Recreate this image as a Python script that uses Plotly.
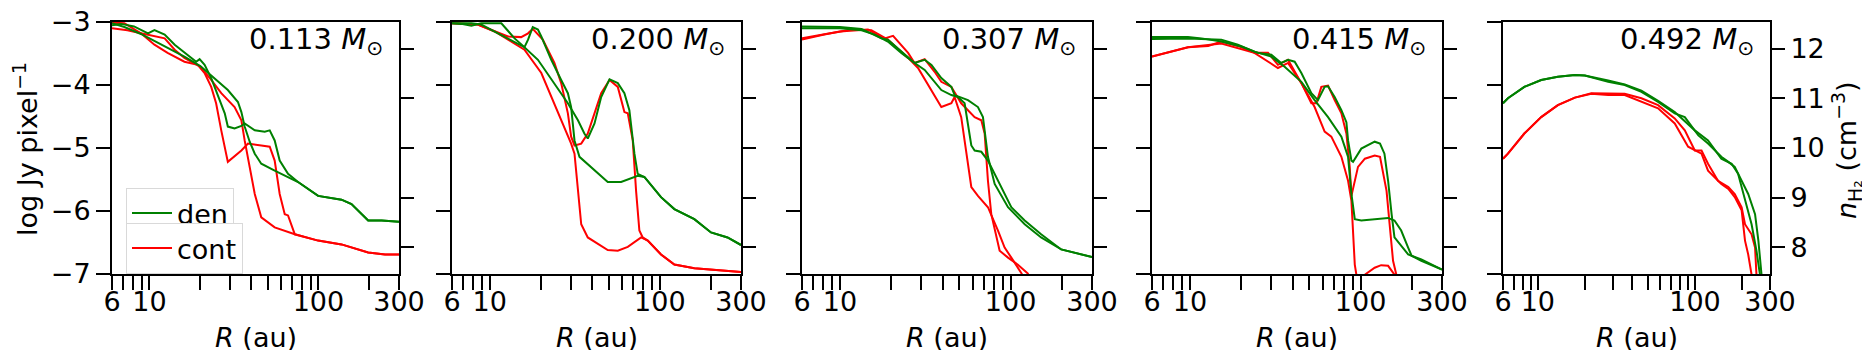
import plotly.graph_objects as go

# 每个面板的质量标签
masses = ['0.113', '0.200', '0.307', '0.415', '0.492']

# ---- 0.113 Msun ----
p1_den_a_R = [6, 7.1, 8.9, 10, 12.3, 16.1, 20, 24.3, 29.1, 33.4, 35, 36.6, 39.2, 42, 45.9, 55.1, 66.1, 75.8, 99.6, 137, 157, 197, 237, 300]
p1_den_a = [-3.02, -3.08, -3.19, -3.26, -3.38, -3.55, -3.70, -3.89, -4.08, -4.27, -4.43, -4.66, -4.90, -5.09, -5.25, -5.36, -5.46, -5.54, -5.76, -5.82, -5.89, -6.15, -6.15, -6.17]
p1_den_b_R = [6, 6.8, 8.1, 9.8, 10.7, 12.3, 14.1, 16.9, 18.9, 19.8, 21.2, 23.2, 25.4, 27.9, 29.1, 31.9, 35, 36.6, 42, 48.1, 51.5, 55.1, 59.0, 63.2, 66.1, 75.8, 99.6, 137, 157, 197, 237, 300]
p1_den_b = [-3.05, -3.03, -3.07, -3.18, -3.13, -3.20, -3.36, -3.52, -3.63, -3.59, -3.68, -3.89, -4.16, -4.45, -4.66, -4.69, -4.65, -4.61, -4.72, -4.74, -4.72, -4.88, -5.20, -5.33, -5.41, -5.54, -5.76, -5.82, -5.89, -6.15, -6.15, -6.17]
p1_cont_a_R = [6, 7.4, 8.9, 10.7, 12.3, 14.1, 16.1, 18.5, 20, 23.2, 26.6, 31.9, 35, 36.6, 39.2, 42, 45.9, 55.1, 72.5, 99.6, 137, 197, 248, 300]
p1_cont_a = [-3.10, -3.13, -3.18, -3.22, -3.26, -3.44, -3.57, -3.66, -3.71, -3.92, -4.13, -4.35, -4.56, -4.88, -5.30, -5.73, -6.10, -6.26, -6.37, -6.47, -6.53, -6.66, -6.69, -6.69]
p1_cont_b_R = [6, 7.1, 8.9, 10.7, 12.8, 16.1, 19.3, 21.2, 23.2, 24.8, 26.6, 29.1, 35, 38.3, 45.9, 51.5, 55.1, 59.0, 63.2, 66.1, 72.5, 99.6, 137, 197, 248, 300]
p1_cont_b = [-3.01, -3.02, -3.18, -3.36, -3.49, -3.63, -3.68, -3.81, -4.03, -4.29, -4.72, -5.22, -5.04, -4.93, -4.96, -4.98, -5.20, -5.73, -6.05, -6.07, -6.37, -6.47, -6.53, -6.66, -6.69, -6.69]

# ---- 0.200 Msun ----
p2_den_a_R = [6, 6.8, 7.8, 8.9, 11.7, 14.0, 16.0, 16.8, 17.9, 19.2, 20.1, 23.0, 26.3, 28.8, 30.1, 31.5, 33.7, 39.4, 45.2, 49.4, 59.2, 74.1, 81.1, 101.6, 121.7, 159.5, 199.8, 250, 300]
p2_den_a = [-3.02, -3.03, -3.06, -3.02, -3.02, -3.26, -3.40, -3.28, -3.08, -3.12, -3.23, -3.60, -3.92, -4.13, -4.35, -4.88, -5.14, -5.30, -5.44, -5.54, -5.54, -5.44, -5.46, -5.78, -5.97, -6.13, -6.34, -6.42, -6.54]
p2_den_b_R = [6, 7.8, 8.9, 10.7, 12.8, 16.0, 19.2, 24.0, 28.8, 33.0, 36.0, 37.7, 41.3, 45.2, 50.6, 56.6, 61.9, 66.2, 70.9, 74.1, 81.1, 101.6, 121.7, 159.5, 199.8, 250, 300]
p2_den_b = [-3.02, -3.02, -3.04, -3.15, -3.26, -3.40, -3.60, -3.97, -4.29, -4.56, -4.77, -4.85, -4.61, -4.19, -3.91, -3.97, -4.13, -4.40, -5.09, -5.41, -5.46, -5.78, -5.97, -6.13, -6.34, -6.42, -6.54]
p2_cont_a_R = [6, 8.5, 10.7, 16.0, 20.1, 24.0, 27.5, 30.1, 31.5, 33.0, 34.5, 37.7, 49.4, 56.6, 64.8, 77.6, 84.9, 101.6, 121.7, 159.5, 199.8, 300]
p2_cont_a = [-3.02, -3.04, -3.15, -3.44, -3.81, -4.29, -4.66, -4.93, -5.09, -5.73, -6.21, -6.42, -6.62, -6.63, -6.57, -6.42, -6.47, -6.69, -6.85, -6.91, -6.93, -6.97]
p2_cont_b_R = [6, 8.5, 12.8, 15.3, 16.8, 17.9, 20.5, 24.0, 26.3, 28.8, 30.1, 31.5, 34.5, 37.7, 45.2, 50.6, 56.6, 61.9, 64.8, 69.3, 72.5, 75.8, 79.3, 84.9, 101.6, 121.7, 159.5, 199.8, 300]
p2_cont_b = [-3.02, -3.04, -3.23, -3.24, -3.18, -3.11, -3.28, -3.65, -3.97, -4.45, -4.82, -4.96, -4.93, -4.77, -4.13, -3.92, -4.03, -4.43, -4.45, -4.88, -5.68, -6.31, -6.42, -6.47, -6.69, -6.85, -6.91, -6.93, -6.97]

# ---- 0.307 Msun ----
p3_den_a_R = [6, 10, 13.4, 17.5, 19.1, 22.9, 27.4, 31.4, 39.3, 45.0, 49.2, 53.8, 58.9, 61.6, 67.4, 73.7, 80.7, 92.3, 101, 121, 151, 198, 237, 300]
p3_den_a = [-3.07, -3.08, -3.11, -3.26, -3.28, -3.47, -3.65, -3.76, -4.08, -4.16, -4.19, -4.29, -4.96, -5.04, -5.06, -5.20, -5.41, -5.73, -5.94, -6.15, -6.37, -6.61, -6.66, -6.73]
p3_den_b_R = [6, 10, 13.4, 16.0, 19.1, 22.9, 27.4, 31.4, 34.4, 39.3, 45.0, 47.0, 56.3, 64.4, 68.9, 73.7, 80.7, 96.6, 121, 151, 198, 237, 300]
p3_den_b = [-3.10, -3.10, -3.13, -3.20, -3.31, -3.49, -3.65, -3.60, -3.68, -3.89, -4.03, -4.16, -4.24, -4.35, -4.51, -5.14, -5.57, -5.94, -6.21, -6.42, -6.61, -6.66, -6.73]
p3_cont_a_R = [6, 8.1, 11.7, 15.3, 19.1, 25.1, 28.7, 34.4, 39.3, 45.0, 47.0, 51.4, 55.0, 58.9, 64.4, 73.7, 84.4, 92.3, 101, 116, 121]
p3_cont_a = [-3.28, -3.20, -3.12, -3.13, -3.28, -3.57, -3.73, -4.08, -4.35, -4.29, -4.19, -4.51, -5.04, -5.62, -5.76, -5.94, -6.31, -6.58, -6.74, -6.99, -7.11]
p3_cont_b_R = [6, 10, 14.6, 18.3, 20.5, 25.1, 27.4, 31.4, 35.9, 39.3, 45.0, 51.4, 61.6, 67.4, 70.5, 73.7, 77.1, 86.3, 96.6, 110, 126, 132]
p3_cont_b = [-3.26, -3.15, -3.12, -3.26, -3.22, -3.49, -3.65, -3.59, -3.79, -3.95, -4.03, -4.29, -4.51, -4.56, -4.77, -5.52, -6.05, -6.63, -6.74, -6.85, -6.99, -7.09]

# ---- 0.415 Msun ----
p4_den_a_R = [6, 9.75, 11.7, 15.3, 20.0, 25.0, 30.0, 34.3, 37.6, 41.1, 45.0, 51.5, 56.3, 61.6, 64.5, 70.5, 77.2, 82.6, 84.5, 88.4, 90.4, 101, 121, 130, 138, 145, 152, 158, 190, 227, 300]
p4_den_a = [-3.24, -3.24, -3.26, -3.31, -3.39, -3.49, -3.52, -3.65, -3.60, -3.63, -3.81, -4.13, -4.24, -4.03, -4.02, -4.19, -4.40, -4.59, -4.88, -5.20, -5.22, -5.01, -4.90, -4.93, -5.09, -5.52, -6.05, -6.42, -6.69, -6.77, -6.93]
p4_den_b_R = [6, 9.75, 15.3, 19.1, 23.9, 30.0, 35.9, 45.0, 53.8, 64.5, 77.2, 84.5, 88.4, 92.5, 101, 145, 158, 173, 190, 199, 227, 300]
p4_den_b = [-3.27, -3.26, -3.28, -3.36, -3.47, -3.55, -3.71, -3.95, -4.24, -4.51, -4.82, -5.14, -5.73, -6.13, -6.15, -6.11, -6.15, -6.31, -6.58, -6.71, -6.79, -6.93]
p4_cont_a_R = [6, 9.75, 12.8, 15.3, 19.1, 23.9, 28.7, 32.8, 37.6, 45.0, 51.5, 55.1, 58.9, 64.5, 70.5, 77.2, 82.6, 86.4, 88.4, 92.5, 96.6, 106, 121, 130, 135, 142, 148, 155, 162]
p4_cont_a = [-3.55, -3.40, -3.38, -3.31, -3.38, -3.49, -3.49, -3.68, -3.60, -3.97, -4.29, -4.29, -4.03, -4.01, -4.24, -4.45, -4.77, -5.30, -5.76, -5.52, -5.30, -5.17, -5.12, -5.14, -5.36, -5.68, -6.21, -6.79, -7.01]
p4_cont_b_R = [6, 9.75, 15.3, 23.9, 32.8, 37.6, 45.0, 53.8, 61.6, 67.4, 77.2, 84.5, 88.4, 92.5, 94.5, 100, 106, 121, 132, 145, 158]
p4_cont_b = [-3.55, -3.40, -3.34, -3.49, -3.73, -3.65, -3.97, -4.35, -4.74, -4.82, -5.14, -5.52, -5.84, -6.85, -7.01, -7.10, -7.01, -6.90, -6.86, -6.87, -7.01]

# ---- 0.492 Msun ----
p5_den_a_R = [6, 6.45, 8.2, 10.5, 13.4, 17.2, 19.9, 23.0, 28.0, 35.7, 45.6, 58.2, 74.3, 86.1, 105, 121, 147, 163, 179, 198, 218, 241, 253, 265]
p5_den_a = [-4.29, -4.21, -4.03, -3.92, -3.87, -3.84, -3.85, -3.89, -3.95, -4.00, -4.11, -4.27, -4.45, -4.51, -4.80, -4.93, -5.14, -5.22, -5.30, -5.52, -5.73, -6.05, -6.47, -7.01]
p5_den_b_R = [6, 6.45, 8.2, 10.5, 13.4, 17.2, 19.9, 23.0, 28.0, 35.7, 45.6, 58.2, 74.3, 99.7, 121, 147, 171, 188, 208, 229, 246, 259]
p5_den_b = [-4.29, -4.21, -4.03, -3.92, -3.87, -3.84, -3.85, -3.88, -3.93, -3.99, -4.09, -4.25, -4.43, -4.72, -4.88, -5.17, -5.25, -5.41, -5.84, -6.21, -6.63, -7.01]
p5_cont_a_R = [6, 6.45, 8.2, 10.5, 13.4, 17.2, 21.9, 28.0, 35.7, 45.6, 58.2, 74.3, 90.4, 110, 121, 147, 163, 179, 198, 208, 218, 229]
p5_cont_a = [-5.17, -5.09, -4.77, -4.51, -4.32, -4.20, -4.14, -4.16, -4.16, -4.27, -4.37, -4.61, -4.98, -5.09, -5.36, -5.57, -5.65, -5.78, -5.99, -6.47, -6.69, -7.01]
p5_cont_b_R = [6, 6.45, 8.2, 10.5, 13.4, 17.2, 21.9, 28.0, 35.7, 45.6, 58.2, 74.3, 86.1, 99.7, 110, 121, 140, 163, 179, 198, 208, 229, 241, 246]
p5_cont_b = [-5.17, -5.09, -4.77, -4.51, -4.32, -4.20, -4.13, -4.13, -4.14, -4.21, -4.32, -4.53, -4.72, -5.04, -5.04, -5.25, -5.52, -5.62, -5.73, -5.94, -6.21, -6.37, -6.58, -7.01]

# 坐标轴刻度
r_major = [6, 10, 100, 300]
r_major_labels = ['6', '10', '100', '300']
r_minor = [7, 8, 9, 20, 30, 40, 50, 60, 70, 80, 90, 200]
flux_ticks = [-7, -6, -5, -4, -3]
flux_labels = ['−7', '−6', '−5', '−4', '−3']
nh2_ticks = [8, 9, 10, 11, 12]

panels = [
    (p1_den_a_R, p1_den_a, p1_den_b_R, p1_den_b, p1_cont_a_R, p1_cont_a, p1_cont_b_R, p1_cont_b),
    (p2_den_a_R, p2_den_a, p2_den_b_R, p2_den_b, p2_cont_a_R, p2_cont_a, p2_cont_b_R, p2_cont_b),
    (p3_den_a_R, p3_den_a, p3_den_b_R, p3_den_b, p3_cont_a_R, p3_cont_a, p3_cont_b_R, p3_cont_b),
    (p4_den_a_R, p4_den_a, p4_den_b_R, p4_den_b, p4_cont_a_R, p4_cont_a, p4_cont_b_R, p4_cont_b),
    (p5_den_a_R, p5_den_a, p5_den_b_R, p5_den_b, p5_cont_a_R, p5_cont_a, p5_cont_b_R, p5_cont_b),
]

W, H = 1870, 350
px_left = [104, 444, 794, 1144, 1495]
px_right = [391, 733, 1084, 1434, 1762]
y_dom = [1 - 266 / H, 1 - 14 / H]
FONT = 'DejaVu Sans'
FS = 27
GREEN = '#008000'
RED = '#ff0000'

fig = go.Figure()
annotations = []
layout = dict(
    width=W, height=H,
    margin=dict(l=0, r=0, t=0, b=0),
    paper_bgcolor='white', plot_bgcolor='white',
    font=dict(family=FONT, size=FS, color='black'),
    showlegend=True,
)

for i, d in enumerate(panels):
    n = i + 1
    xa = 'x' if n == 1 else f'x{n}'
    ya = 'y' if n == 1 else f'y{n}'
    gax, gay, gbx, gby, cax, cay, cbx, cby = d
    # 红线 (cont)
    for j, (rx, ry) in enumerate([(cax, cay), (cbx, cby)]):
        fig.add_trace(go.Scatter(
            x=rx, y=ry, xaxis=xa, yaxis=ya, mode='lines',
            line=dict(color=RED, width=2),
            name='cont', legend='legend2',
            showlegend=(n == 1 and j == 0), hoverinfo='skip'))
    # 绿线 (den)
    for j, (rx, ry) in enumerate([(gax, gay), (gbx, gby)]):
        fig.add_trace(go.Scatter(
            x=rx, y=ry, xaxis=xa, yaxis=ya, mode='lines',
            line=dict(color=GREEN, width=2),
            name='den', legend='legend',
            showlegend=(n == 1 and j == 0), hoverinfo='skip'))

    dom = [px_left[i] / W, px_right[i] / W]
    xkey = 'xaxis' if n == 1 else f'xaxis{n}'
    ykey = 'yaxis' if n == 1 else f'yaxis{n}'
    layout[xkey] = dict(
        type='log', range=[0.77815, 2.47712], domain=dom, anchor=ya,
        tickmode='array', tickvals=r_major, ticktext=r_major_labels,
        ticks='outside', ticklen=14, tickwidth=2, tickcolor='black',
        minor=dict(tickmode='array', tickvals=r_minor, ticks='outside',
                   ticklen=14, tickwidth=2, tickcolor='black', showgrid=False),
        showline=True, linewidth=2, linecolor='black', mirror=True,
        showgrid=False, zeroline=False, ticklabelstandoff=-11,
        ticklabeloverflow='allow', tickfont=dict(size=FS), automargin=False)
    layout[ykey] = dict(
        range=[-7, -3], domain=y_dom, anchor=xa,
        tickmode='array', tickvals=flux_ticks, ticktext=flux_labels,
        ticks='outside', ticklen=14, tickwidth=2, tickcolor='black',
        showline=True, linewidth=2, linecolor='black', mirror=True,
        showgrid=False, zeroline=False, showticklabels=(n == 1),
        ticklabeloverflow='allow', automargin=False)
    # 右侧 n_H2 轴
    layout[f'yaxis{n + 5}'] = dict(
        range=[7.46, 12.54], overlaying=ya, side='right', anchor=xa,
        tickmode='array', tickvals=nh2_ticks, ticks='outside', ticklen=14,
        tickwidth=2, tickcolor='black', showline=False, showgrid=False,
        zeroline=False, showticklabels=(n == 5),
        ticklabeloverflow='allow', automargin=False)
    # 右侧轴的空白占位线
    fig.add_trace(go.Scatter(
        x=[6, 300], y=[None, None], xaxis=xa, yaxis=f'y{n + 5}',
        mode='lines', showlegend=False, hoverinfo='skip'))

    annotations.append(dict(
        text=f'{masses[i]} <i>M</i><sub>⊙</sub>',
        xref='paper', yref='paper', x=(px_right[i] - 14) / W, y=1 - 33 / H,
        xanchor='right', yanchor='middle', showarrow=False,
        font=dict(size=29)))
    annotations.append(dict(
        text='<i>R</i> (au)', xref='paper', yref='paper',
        x=(px_left[i] + px_right[i]) / 2 / W, y=1 - 329 / H,
        xanchor='center', yanchor='middle', showarrow=False,
        font=dict(size=FS)))

annotations.append(dict(
    text='log Jy pixel<sup>−1</sup>', xref='paper', yref='paper',
    x=18 / W, y=1 - 141 / H, xanchor='center', yanchor='middle',
    textangle=-90, showarrow=False, font=dict(size=FS)))
annotations.append(dict(
    text='<i>n</i><sub>H₂</sub> (cm<sup>−3</sup>)', xref='paper', yref='paper',
    x=1838 / W, y=1 - 142 / H, xanchor='center', yanchor='middle',
    textangle=-90, showarrow=False, font=dict(size=FS)))
layout['annotations'] = annotations

layout['legend'] = dict(
    x=118 / W, y=1 - 180 / H, xanchor='left', yanchor='top',
    bgcolor='white', bordercolor='#d9d9d9', borderwidth=1,
    font=dict(size=FS), itemwidth=40, tracegroupgap=0)
layout['legend2'] = dict(
    x=118 / W, y=1 - 215 / H, xanchor='left', yanchor='top',
    bgcolor='white', bordercolor='#d9d9d9', borderwidth=1,
    font=dict(size=FS), itemwidth=40, tracegroupgap=0)

fig.update_layout(**layout)
fig.write_html('out.html')
